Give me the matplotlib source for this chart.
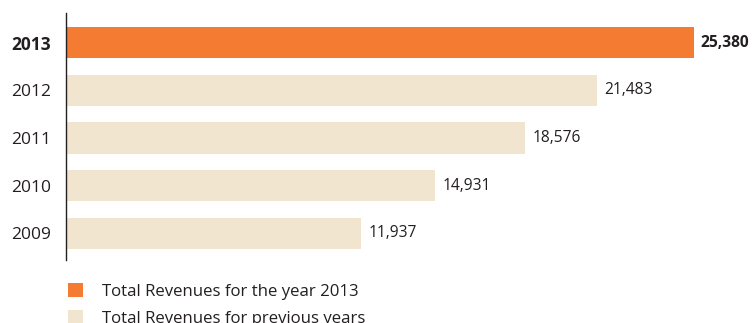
import matplotlib
matplotlib.use("Agg")
import matplotlib.pyplot as plt
from matplotlib.patches import Patch

years = ["2009", "2010", "2011", "2012", "2013"]
revenues = [11937, 14931, 18576, 21483, 25380]
legend_labels = ["Total Revenues for the year 2013", "Total Revenues for previous years"]

ORANGE = "#F37B32"
BEIGE = "#F1E5D0"
TEXT = "#231F20"

plt.rcParams["font.family"] = ["Open Sans", "DejaVu Sans"]

fig = plt.figure(figsize=(7.56, 3.23), dpi=100)
W, H = 756, 323
left, right, top, bottom = 66, 746, 13, 260
ax = fig.add_axes([left / W, 1 - bottom / H, (right - left) / W, (bottom - top) / H])

colors = [BEIGE] * (len(years) - 1) + [ORANGE]
ypos = list(range(len(years)))
ax.barh(ypos, revenues, height=0.65, color=colors, left=0)

ax.set_xlim(0, 27500)
ax.set_ylim(-0.555, len(years) - 1 + 0.618)

for y, v, yr in zip(ypos, revenues, years):
    bold = yr == "2013"
    ax.text(v + 280, y, f"{v:,}", va="center", ha="left", fontsize=11.2,
            color=TEXT, fontweight="bold" if bold else "normal", clip_on=False)

ax.set_yticks(ypos)
ax.set_yticklabels(years, fontsize=12.5, color=TEXT)
for lbl in ax.get_yticklabels():
    if lbl.get_text() == "2013":
        lbl.set_fontweight("bold")
ax.tick_params(axis="y", length=0, pad=11)
ax.set_xticks([])

for s in ["top", "right", "bottom"]:
    ax.spines[s].set_visible(False)
ax.spines["left"].set_color(TEXT)
ax.spines["left"].set_linewidth(1.0)

handles = [Patch(facecolor=ORANGE, edgecolor="none"),
           Patch(facecolor=BEIGE, edgecolor="none")]
fig.legend(handles, legend_labels, loc="upper left",
           bbox_to_anchor=(68 / W, 1 - 283 / H), frameon=False,
           fontsize=12.1, handlelength=0.9, handleheight=0.9,
           handletextpad=1.1, labelspacing=0.6, borderpad=0, borderaxespad=0,
           labelcolor=TEXT)

fig.savefig("out.png", dpi=100, facecolor="white")
